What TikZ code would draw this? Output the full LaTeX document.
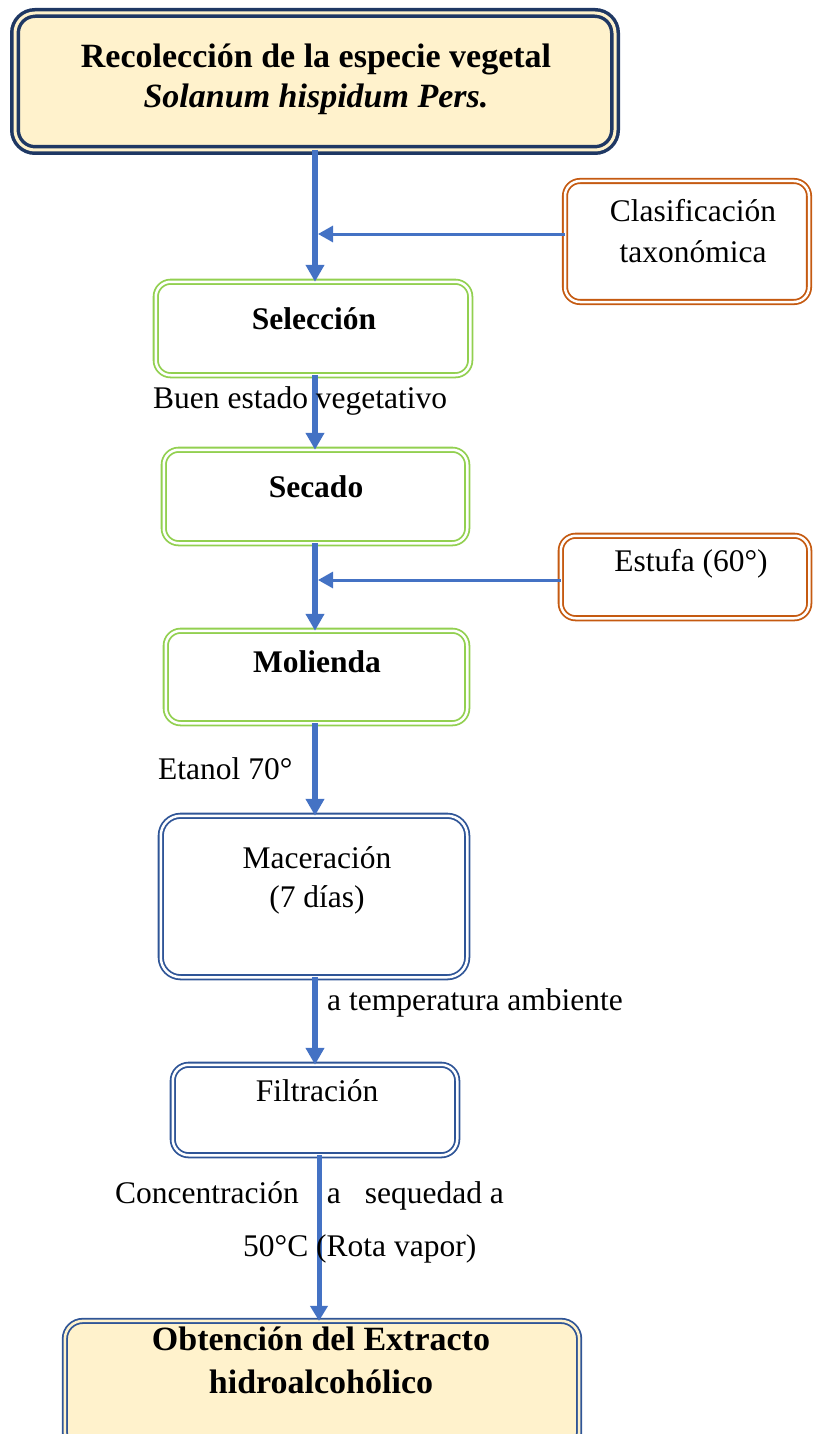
\documentclass[tikz,border=0pt]{standalone}
\usepackage{fontspec}
\setmainfont{Liberation Serif}
\usetikzlibrary{arrows.meta}
\definecolor{navyc}{HTML}{1F3864}
\definecolor{bluec}{HTML}{2F5597}
\definecolor{greenc}{HTML}{92D050}
\definecolor{orangec}{HTML}{C55A11}
\definecolor{arrowc}{HTML}{4472C4}
\definecolor{boxfill}{HTML}{FFF2CC}
\newcommand{\bodyf}{\fontsize{31.5}{40}\selectfont}
\newcommand{\headf}{\fontsize{34}{42}\selectfont\bfseries}
\begin{document}
\begin{tikzpicture}[x=1pt,y=-1pt,
  boxbase/.style={outer sep=0pt, inner sep=0pt},
  headbox/.style={boxbase, draw=navyc, line width=3.5pt, double=boxfill, double distance=3pt, fill=boxfill, rounded corners=20pt},
  endbox/.style={boxbase, draw=bluec, line width=1.8pt, double=boxfill, double distance=2.5pt, fill=boxfill, rounded corners=18pt},
  greenbox/.style={boxbase, draw=greenc, line width=1.8pt, double=white, double distance=2.5pt, rounded corners=15pt},
  orangebox/.style={boxbase, draw=orangec, line width=1.8pt, double=white, double distance=2.5pt, rounded corners=15pt},
  bluebox/.style={boxbase, draw=bluec, line width=1.8pt, double=white, double distance=2.5pt, rounded corners=20pt},
  txt/.style={anchor=base, inner sep=0pt, font=\bodyf},
  btxt/.style={anchor=base, inner sep=0pt, font=\headf},
  ltxt/.style={anchor=base west, inner sep=0pt, font=\bodyf},
  mainarrow/.style={draw=arrowc, line width=6pt, -{Triangle[width=18pt,length=17pt]}},
  sidearrow/.style={draw=arrowc, line width=3pt, -{Triangle[width=16pt,length=15pt]}}
]
\useasboundingbox (0,0) rectangle (812,1434);

% boxes
\node[headbox, minimum width=600pt, minimum height=137pt] (top) at (315,81.5) {};
\node[orangebox, minimum width=244pt, minimum height=121pt] (clas) at (687,241.5) {};
\node[greenbox, minimum width=314.5pt, minimum height=93.5pt] (sel) at (313,328.5) {};
\node[greenbox, minimum width=303.5pt, minimum height=93.5pt] (sec) at (315.5,496.5) {};
\node[orangebox, minimum width=248.5pt, minimum height=82.5pt] (est) at (685,577) {};
\node[greenbox, minimum width=301.5pt, minimum height=92.5pt] (mol) at (316.5,677) {};
\node[bluebox, minimum width=306.5pt, minimum height=161.5pt] (mac) at (314,896.5) {};
\node[bluebox, rounded corners=16pt, minimum width=284.5pt, minimum height=90.5pt] (fil) at (315,1110) {};
\node[endbox, minimum width=514.3pt, minimum height=129pt] (bot) at (322,1385.4) {};

% box texts
\node[btxt] (t1) at (316,68) {Recolección de la especie vegetal};
\node[btxt] (t2) at (316,108) {\itshape Solanum hispidum Pers.};
\node[txt] (c1) at (693,222) {Clasificación};
\node[txt] (c2) at (693,262) {taxonómica};
\node[txt, font=\bodyf\bfseries] (s1) at (314,329) {Selección};
\node[txt, font=\bodyf\bfseries] (s2) at (316,497) {Secado};
\node[txt] (e1) at (691,571.5) {Estufa (60°)};
\node[txt, font=\bodyf\bfseries] (m1) at (317,672) {Molienda};
\node[txt] (ma1) at (317,868) {Maceración};
\node[txt] (ma2) at (317,907) {(7 días)};
\node[txt] (f1) at (317,1101) {Filtración};
\node[btxt] (o1) at (321,1350) {Obtención del Extracto};
\node[btxt] (o2) at (321,1393) {hidroalcohólico};

% junction coordinates
\coordinate (ax) at (315,0);
\coordinate (bx) at (319,0);
\coordinate (j1) at (318,234);
\coordinate (j2) at (318,580);

% connectors
\draw[mainarrow] (top.south -| ax) -- (sel.north -| ax);
\draw[sidearrow] (clas.west |- j1) -- (j1);
\draw[mainarrow] (sel.south -| ax) -- (sec.north -| ax);
\draw[mainarrow] (sec.south -| ax) -- (mol.north -| ax);
\draw[sidearrow] (est.west |- j2) -- (j2);
\draw[mainarrow] (mol.south -| ax) -- (mac.north -| ax);
\draw[mainarrow] (mac.south -| ax) -- (fil.north -| ax);
\draw[draw=arrowc, line width=5pt, -{Triangle[width=17pt,length=15pt]}] (fil.south -| bx) -- (bot.north -| bx);

% connector labels
\node[ltxt] (l1) at (153,408) {Buen estado vegetativo};
\node[ltxt] (l2) at (158,779) {Etanol 70°};
\node[ltxt] (l3) at (327,1010) {a temperatura ambiente};
\node[ltxt] (l4) at (115,1203) {Concentración\hspace{28pt}a\hspace{24pt}sequedad a};
\node[ltxt] (l5) at (243,1256) {50°C (Rota vapor)};
\end{tikzpicture}
\end{document}
